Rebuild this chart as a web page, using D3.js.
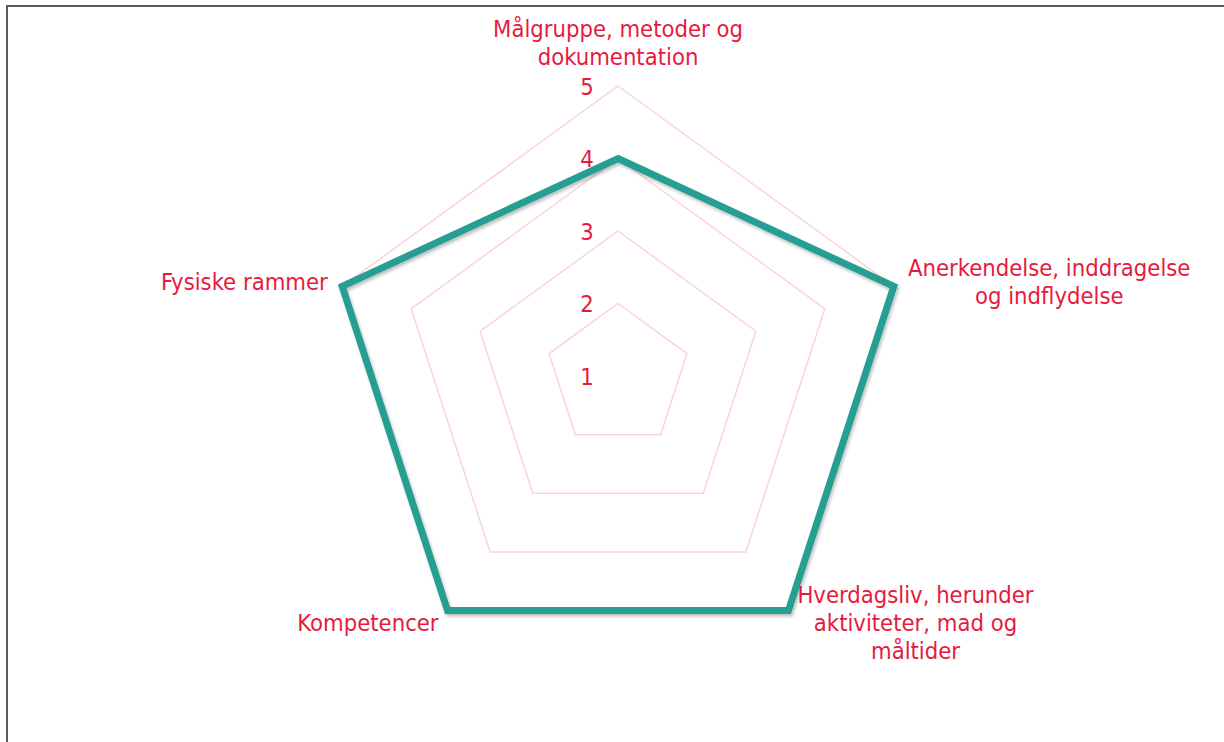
<!DOCTYPE html>
<html>
<head>
<meta charset="utf-8">
<script src="https://cdn.jsdelivr.net/npm/d3@7"></script>
<style>
  body { margin: 0; background: #fff; }
  svg { display: block; }
  text { font-family: "DejaVu Sans Condensed", "DejaVu Sans", sans-serif; font-stretch: condensed; }
</style>
</head>
<body>
<svg id="chart" width="1224" height="742"></svg>
<script>
'use strict';

// data
var categories = [
  ['Målgruppe, metoder og', 'dokumentation'],
  ['Anerkendelse, inddragelse', 'og indflydelse'],
  ['Hverdagsliv, herunder', 'aktiviteter, mad og', 'måltider'],
  ['Kompetencer'],
  ['Fysiske rammer']
];
var values = [4, 5, 5, 5, 5];
var ticks = [1, 2, 3, 4, 5];

var red = '#e61a40', teal = '#269e92', grid = '#fbd3d8';
var cx = 618, cy = 376, R = 290;
var fontSize = 23.6, lineH = 28;

var svg = d3.select('#chart');

// shadow under the series line
var defs = svg.append('defs');
defs.append('filter').attr('id', 'shadow')
  .attr('x', '-10%').attr('y', '-10%').attr('width', '120%').attr('height', '120%')
  .append('feDropShadow')
  .attr('dx', 1.5).attr('dy', 2.5).attr('stdDeviation', 1.5)
  .attr('flood-color', '#000').attr('flood-opacity', 0.25);

// frame (only top & left edges visible)
svg.append('path')
  .attr('d', 'M7,742 L7,6 L1224,6')
  .attr('fill', 'none').attr('stroke', '#5b5b5b').attr('stroke-width', 2);

var r = d3.scaleLinear().domain([1, 5]).range([0, R]);
var angle = d3.scaleLinear().domain([0, categories.length]).range([0, 2 * Math.PI]);

var g = svg.append('g').attr('transform', 'translate(' + cx + ',' + cy + ')');

var radial = d3.lineRadial()
  .angle(function (d, i) { return angle(i); })
  .radius(function (d) { return r(d); })
  .curve(d3.curveLinearClosed);

// gridlines
g.selectAll('.grid').data(ticks.slice(1)).enter().append('path')
  .attr('class', 'grid')
  .attr('d', function (t) { return radial(categories.map(function () { return t; })); })
  .attr('fill', 'none').attr('stroke', grid).attr('stroke-width', 1.5);

// tick labels
g.selectAll('.tick').data(ticks).enter().append('text')
  .attr('class', 'tick')
  .attr('x', -31)
  .attr('y', function (t) { return -r(t); })
  .attr('dy', '0.36em')
  .attr('text-anchor', 'middle')
  .attr('fill', red).attr('font-size', fontSize)
  .text(function (t) { return t; });

// series
g.append('path')
  .datum(values)
  .attr('d', radial)
  .attr('fill', 'none')
  .attr('stroke', teal).attr('stroke-width', 7)
  .attr('stroke-linejoin', 'miter')
  .attr('filter', 'url(#shadow)');

// category labels
var gap = 15;
categories.forEach(function (lines, i) {
  var a = angle(i);
  var dx = Math.sin(a), dy = -Math.cos(a);
  var px = dx * (R + gap), py = dy * (R + gap);
  var anchor = Math.abs(dx) < 0.1 ? 'middle' : (dx > 0 ? 'start' : 'end');
  var top;
  if (Math.abs(dx) < 0.1) {
    top = dy < 0 ? py - lines.length * lineH : py;
  } else {
    top = py - lines.length * lineH / 2;
  }
  var t = g.append('text')
    .attr('fill', red).attr('font-size', fontSize)
    .attr('text-anchor', 'middle');
  lines.forEach(function (l, j) {
    t.append('tspan').attr('x', 0).attr('y', top + j * lineH + 22).text(l);
  });
  // centre lines within the label box, then align the box to the anchor point
  var w = t.node().getBBox().width;
  var x0 = anchor === 'middle' ? px : (anchor === 'start' ? px + w / 2 : px - w / 2);
  t.selectAll('tspan').attr('x', x0);
});
</script>
</body>
</html>
